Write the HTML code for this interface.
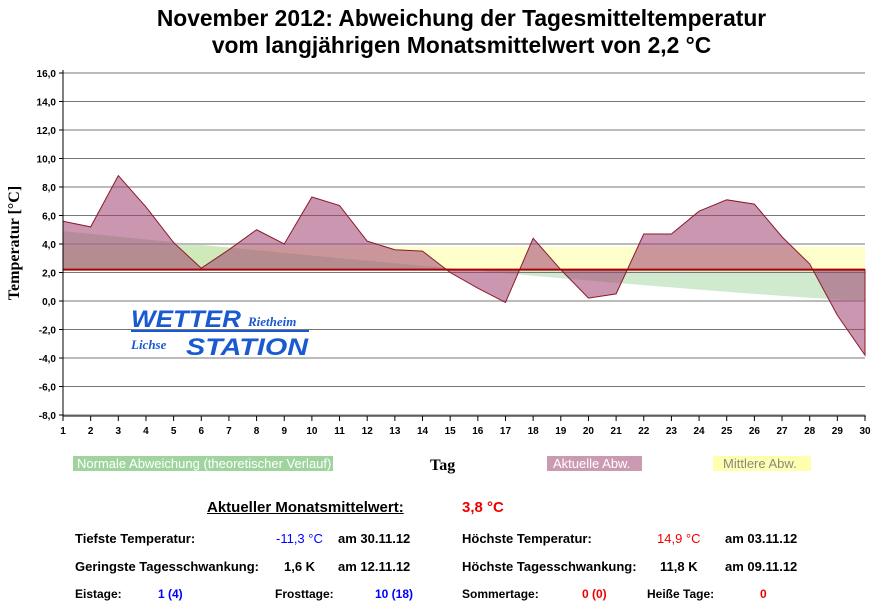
<!DOCTYPE html><html><head><meta charset="utf-8"><style>
body{margin:0;background:#fff;width:877px;height:607px;overflow:hidden;font-family:"Liberation Sans",Arial,sans-serif;position:relative}
.t{position:absolute;font-size:13px;font-weight:bold;white-space:nowrap}
</style></head><body>
<svg id="s" width="877" height="607" style="position:absolute;left:0;top:0" font-family="Liberation Sans, Arial, sans-serif"></svg>
<div class="t" style="left:23px;width:877px;text-align:center;top:5px;font-size:22.8px;line-height:27px">November 2012: Abweichung der Tagesmitteltemperatur<br>vom langjährigen Monatsmittelwert von 2,2 °C</div>
<div class="t" style="left:73px;top:456px;font-weight:normal;background:#9fd49f;color:#fff;padding:0 4px;font-size:13px;width:252px">Normale Abweichung (theoretischer Verlauf)</div>
<div class="t" style="left:430px;top:457px;font-family:'Liberation Serif',serif;font-size:16px">Tag</div>
<div class="t" style="left:547px;top:456px;font-weight:normal;background:#cc99b3;color:#fff;padding:0 6px;font-size:13px;width:83px">Aktuelle Abw.</div>
<div class="t" style="left:713px;top:456px;font-weight:normal;background:#ffffb0;color:#888;padding:0 10px;font-size:13px;width:78px">Mittlere Abw.</div>
<div class="t" style="left:207px;top:499px;font-size:15px;text-decoration:underline">Aktueller Monatsmittelwert:</div>
<div class="t" style="left:462px;top:499px;font-size:15px;color:#e00">3,8 °C</div>
<div class="t" style="left:75px;top:531px">Tiefste Temperatur:</div>
<div class="t" style="left:276px;top:531px;color:#00f;font-weight:normal">-11,3 °C</div>
<div class="t" style="left:338px;top:531px">am 30.11.12</div>
<div class="t" style="left:462px;top:531px">Höchste Temperatur:</div>
<div class="t" style="left:657px;top:531px;color:#e00;font-weight:normal">14,9 °C</div>
<div class="t" style="left:725px;top:531px">am 03.11.12</div>
<div class="t" style="left:75px;top:559px">Geringste Tagesschwankung:</div>
<div class="t" style="left:284px;top:559px">1,6 K</div>
<div class="t" style="left:338px;top:559px">am 12.11.12</div>
<div class="t" style="left:462px;top:559px">Höchste Tagesschwankung:</div>
<div class="t" style="left:660px;top:559px">11,8 K</div>
<div class="t" style="left:725px;top:559px">am 09.11.12</div>
<div class="t" style="left:75px;top:587px;font-size:12px">Eistage:</div>
<div class="t" style="left:158px;top:587px;font-size:12px;color:#00f">1 (4)</div>
<div class="t" style="left:275px;top:587px;font-size:12px">Frosttage:</div>
<div class="t" style="left:375px;top:587px;font-size:12px;color:#00f">10 (18)</div>
<div class="t" style="left:462px;top:587px;font-size:12px">Sommertage:</div>
<div class="t" style="left:582px;top:587px;font-size:12px;color:#e00">0 (0)</div>
<div class="t" style="left:647px;top:587px;font-size:12px">Heiße Tage:</div>
<div class="t" style="left:760px;top:587px;font-size:12px;color:#e00">0</div>
<script>
var s=document.getElementById('s'),h='';
var X0=63,X1=865,Y=function(v){return 301-v*14.25},X=function(d){return X0+(d-1)*(X1-X0)/29};
h+='<rect x="'+X0+'" y="'+Y(3.8)+'" width="'+(X1-X0)+'" height="'+(Y(2.2)-Y(3.8))+'" fill="#ffffcc"/>';
var g='M'+X0+','+Y(2.2);for(var d=1;d<=30;d++){var v=4.9*Math.pow(1-(d-1)/29,1.15);g+=' L'+X(d)+','+Y(v);}g+=' L'+X1+','+Y(2.2)+'Z';
h+='<path d="'+g+'" fill="#a8d8a8" fill-opacity="0.55"/>';
for(var v=-8;v<=16;v+=2){var y=Y(v);var lt=(v/2)%2==0;h+='<line x1="'+X0+'" x2="'+X1+'" y1="'+y+'" y2="'+y+'" stroke="'+(lt?'#bbb':'#777')+'" stroke-width="'+(lt?2:1)+'"/>';
h+='<text x="56" y="'+(y+4)+'" font-size="10" font-weight="bold" text-anchor="end">'+v.toFixed(1).replace('.',',')+'</text><line x1="59" x2="63" y1="'+y+'" y2="'+y+'" stroke="#000"/>';}
var D=[5.6,5.2,8.8,6.6,4.1,2.3,3.6,5.0,4.0,7.3,6.7,4.2,3.6,3.5,2.0,0.9,-0.1,4.4,2.2,0.2,0.5,4.7,4.7,6.3,7.1,6.8,4.5,2.6,-1.0,-3.8];
var p='M'+X0+','+Y(2.2);for(var i=0;i<30;i++){p+=' L'+X(i+1)+','+Y(D[i]);}p+=' L'+X1+','+Y(2.2)+'Z';
h+='<path d="'+p+'" fill="#a0406f" fill-opacity="0.55" stroke="#8b1a2a" stroke-width="1"/>';
h+='<line x1="'+X0+'" x2="'+X1+'" y1="'+Y(2.2)+'" y2="'+Y(2.2)+'" stroke="#a00" stroke-width="2"/>';
h+='<line x1="63" x2="63" y1="70" y2="416" stroke="#000"/><line x1="63" x2="866" y1="416" y2="416" stroke="#000"/>';
for(var d=1;d<=30;d++){h+='<line x1="'+X(d)+'" x2="'+X(d)+'" y1="416" y2="421" stroke="#000"/><text x="'+X(d)+'" y="434" font-size="10" font-weight="bold" text-anchor="middle">'+d+'</text>';}
h+='<text transform="translate(19,243) rotate(-90)" font-family="Liberation Serif,serif" font-size="16" font-weight="bold" text-anchor="middle">Temperatur [°C]</text>';
h+='<text x="131" y="327" font-size="24" font-weight="bold" font-style="italic" fill="#1a5ad0" textLength="110" lengthAdjust="spacingAndGlyphs">WETTER</text><text x="248" y="326" font-family="Liberation Serif,serif" font-size="13" font-weight="bold" font-style="italic" fill="#1a5ad0">Rietheim</text>';
h+='<rect x="131" y="330" width="178" height="2" fill="#1a5ad0"/><text x="131" y="349" font-family="Liberation Serif,serif" font-size="13" font-weight="bold" font-style="italic" fill="#1a5ad0">Lichse</text><text x="186" y="355" font-size="24" font-weight="bold" font-style="italic" fill="#1a5ad0" textLength="122" lengthAdjust="spacingAndGlyphs">STATION</text>';
s.innerHTML=h;
</script>
</body></html>
